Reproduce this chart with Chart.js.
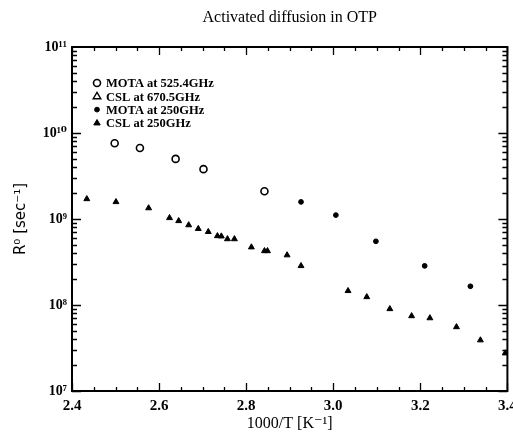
<!DOCTYPE html>
<html lang="en">
<head>
<meta charset="UTF-8">
<title>Activated diffusion in OTP</title>
<style>
  html, body { margin: 0; padding: 0; background: #fff; }
  #wrap { width: 513px; height: 439px; }
</style>
</head>
<body>
<div id="wrap"><canvas id="myChart" width="513" height="439"></canvas></div>
<script src="https://cdn.jsdelivr.net/npm/chart.js"></script>
<script>
// values
let v_motaHighX = [2.498, 2.556, 2.638, 2.702, 2.842];
let v_motaHighY = [7.6e9, 6.7e9, 5.0e9, 3.8e9, 2.1e9];

let v_cslHighX = [];
let v_cslHighY = [];

let v_motaLowX = [2.926, 3.006, 3.098, 3.210, 3.315];
let v_motaLowY = [1.58e9, 1.11e9, 5.5e8, 2.85e8, 1.65e8];

let v_cslLowX = [2.434, 2.501, 2.576, 2.624, 2.645, 2.668, 2.690, 2.713, 2.734, 2.743, 2.757, 2.773,
                 2.812, 2.842, 2.849, 2.894, 2.926, 3.034, 3.077, 3.130, 3.180, 3.222, 3.283, 3.338, 3.395];
let v_cslLowY = [1.71e9, 1.58e9, 1.34e9, 1.03e9, 9.5e8, 8.5e8, 7.7e8, 7.1e8, 6.35e8, 6.3e8, 5.85e8, 5.85e8,
                 4.7e8, 4.25e8, 4.25e8, 3.8e8, 2.85e8, 1.46e8, 1.24e8, 9.0e7, 7.45e7, 7.05e7, 5.55e7, 3.9e7, 2.75e7];

let v_labels = ['MOTA at 525.4GHz', 'CSL at 670.5GHz', 'MOTA at 250GHz', 'CSL at 250GHz'];
let v_xTicks = [2.4, 2.6, 2.8, 3.0, 3.2, 3.4];
let v_yTicks = [1e7, 1e8, 1e9, 1e10, 1e11];
let v_yTickText = ['10\u2077', '10\u2078', '10\u2079', '10\u00B9\u2070', '10\u00B9\u00B9'];

function toPoints(xs, ys) {
    let pts = [];
    for (let i = 0; i < xs.length; i++) {
        pts.push({ x: xs[i], y: ys[i] });
    }
    return pts;
}

const SERIF = "'Liberation Serif', 'DejaVu Serif', serif";

// frame, inward ticks, title and legend
const framePlugin = {
    id: 'frame',
    afterDraw(chart) {
        const c = chart.ctx;
        const a = chart.chartArea;
        const xs = chart.scales.x;
        const ys = chart.scales.y;
        c.save();
        c.strokeStyle = '#000';
        c.lineWidth = 2;
        c.strokeRect(a.left, a.top, a.right - a.left, a.bottom - a.top);

        c.lineWidth = 1.3;
        c.beginPath();
        // x ticks every 0.05, major every 0.2
        for (let k = 0; k <= 20; k++) {
            let v = 2.4 + k * 0.05;
            let px = Math.round(xs.getPixelForValue(v)) + 0.5;
            let len = (k % 4 === 0) ? 8 : 4;
            c.moveTo(px, a.bottom); c.lineTo(px, a.bottom - len);
            c.moveTo(px, a.top); c.lineTo(px, a.top + len);
        }
        // y ticks on log scale
        for (let e = 7; e <= 10; e++) {
            for (let m = 1; m <= 9; m++) {
                let v = m * Math.pow(10, e);
                let py = Math.round(ys.getPixelForValue(v)) + 0.5;
                let len = (m === 1) ? 9 : 5;
                c.moveTo(a.left, py); c.lineTo(a.left + len, py);
                c.moveTo(a.right, py); c.lineTo(a.right - len, py);
            }
        }
        c.stroke();

        // title
        c.fillStyle = '#000';
        c.font = '16px ' + SERIF;
        c.textAlign = 'center';
        c.textBaseline = 'middle';
        c.fillText('Activated diffusion in OTP', (a.left + a.right) / 2, 18);

        // legend in the upper left corner
        c.font = 'bold 12.5px ' + SERIF;
        c.textAlign = 'left';
        let ds = chart.data.datasets;
        for (let i = 0; i < ds.length; i++) {
            let y = 83 + i * 13.3;
            c.strokeStyle = '#000';
            c.fillStyle = ds[i].backgroundColor;
            c.lineWidth = ds[i].borderWidth;
            c.beginPath();
            if (ds[i].pointStyle === 'circle') {
                c.arc(97, y, ds[i].pointRadius, 0, Math.PI * 2);
            } else {
                let r = ds[i].pointRadius;
                c.moveTo(97, y - r);
                c.lineTo(97 + r * 0.95, y + r * 0.6);
                c.lineTo(97 - r * 0.95, y + r * 0.6);
                c.closePath();
            }
            c.fill();
            c.stroke();
            c.fillStyle = '#000';
            c.fillText(ds[i].label, 106, y + 1);
        }
        c.restore();
    }
};

let ctx = document.getElementById('myChart');
new Chart(ctx, {
    type: 'scatter',
    data: {
        datasets: [{
            label: v_labels[0],
            data: toPoints(v_motaHighX, v_motaHighY),
            pointStyle: 'circle',
            pointRadius: 3.5,
            borderWidth: 1.6,
            borderColor: '#000',
            backgroundColor: '#fff'
        }, {
            label: v_labels[1],
            data: toPoints(v_cslHighX, v_cslHighY),
            pointStyle: 'triangle',
            pointRadius: 4,
            borderWidth: 1.4,
            borderColor: '#000',
            backgroundColor: '#fff'
        }, {
            label: v_labels[2],
            data: toPoints(v_motaLowX, v_motaLowY),
            pointStyle: 'circle',
            pointRadius: 2.4,
            borderWidth: 1,
            borderColor: '#000',
            backgroundColor: '#000'
        }, {
            label: v_labels[3],
            data: toPoints(v_cslLowX, v_cslLowY),
            pointStyle: 'triangle',
            pointRadius: 3.4,
            borderWidth: 1,
            borderColor: '#000',
            backgroundColor: '#000'
        }]
    },
    options: {
        responsive: false,
        animation: false,
        layout: { padding: { top: 47, right: 4, left: 0, bottom: 0 } },
        plugins: {
            legend: { display: false },
            title: { display: false },
            tooltip: { enabled: false }
        },
        scales: {
            x: {
                type: 'linear',
                min: 2.4,
                max: 3.4,
                afterFit(scale) {
                    scale.height = 48;
                    scale.paddingLeft = 0;
                    scale.paddingRight = 0;
                },
                afterBuildTicks(scale) {
                    scale.ticks = v_xTicks.map(v => ({ value: v }));
                },
                grid: { display: false, drawTicks: false },
                border: { display: false },
                ticks: {
                    padding: 6,
                    color: '#000',
                    maxRotation: 0,
                    font: { family: SERIF, size: 15, weight: 'bold' },
                    callback: (v) => Number(v).toFixed(1)
                },
                title: {
                    display: true,
                    text: '1000/T [K\u207B\u00B9]',
                    color: '#000',
                    font: { family: SERIF, size: 16 },
                    padding: { top: 0, bottom: 6 }
                }
            },
            y: {
                type: 'logarithmic',
                min: 1e7,
                max: 1e11,
                afterFit(scale) {
                    scale.width = 72;
                    scale.paddingTop = 0;
                    scale.paddingBottom = 0;
                },
                afterBuildTicks(scale) {
                    scale.ticks = v_yTicks.map(v => ({ value: v }));
                },
                grid: { display: false, drawTicks: false },
                border: { display: false },
                ticks: {
                    padding: 5,
                    color: '#000',
                    font: { family: SERIF, size: 14, weight: 'bold' },
                    callback: (v) => v_yTickText[v_yTicks.indexOf(v)]
                },
                title: {
                    display: true,
                    text: 'R\u2070 [sec\u207B\u00B9]',
                    color: '#000',
                    font: { family: "'DejaVu Sans', sans-serif", size: 15 },
                    padding: { top: 12, bottom: 0 }
                }
            }
        }
    },
    plugins: [framePlugin]
});
</script>
</body>
</html>
